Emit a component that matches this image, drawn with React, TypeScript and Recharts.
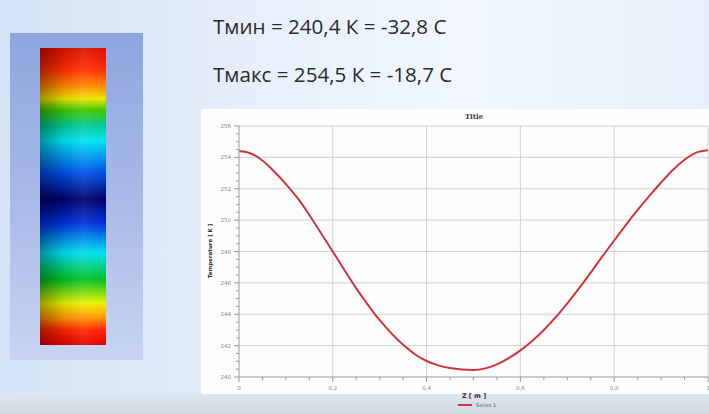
import React from 'react';
import { LineChart, Line, XAxis, YAxis, ReferenceLine } from 'recharts';

const zValues = [0, 0.025, 0.05, 0.075, 0.1, 0.125, 0.15, 0.175, 0.2, 0.225, 0.25, 0.275, 0.3, 0.325, 0.35, 0.375, 0.4, 0.425, 0.45, 0.475, 0.5, 0.525, 0.55, 0.575, 0.6, 0.625, 0.65, 0.675, 0.7, 0.725, 0.75, 0.775, 0.8, 0.825, 0.85, 0.875, 0.9, 0.925, 0.95, 0.975, 1];
const tempValues = [254.4, 254.25, 253.8, 253.1, 252.3, 251.4, 250.33, 249.16, 248.0, 246.8, 245.65, 244.6, 243.62, 242.78, 242.05, 241.45, 241.02, 240.74, 240.57, 240.48, 240.45, 240.55, 240.8, 241.2, 241.7, 242.3, 243.0, 243.8, 244.7, 245.65, 246.65, 247.7, 248.7, 249.7, 250.65, 251.55, 252.4, 253.2, 253.85, 254.3, 254.45];

const xMajorTicks = [0, 0.2, 0.4, 0.6, 0.8, 1];
const xAllTicks = [0, 0.05, 0.1, 0.15, 0.2, 0.25, 0.3, 0.35, 0.4, 0.45, 0.5, 0.55, 0.6, 0.65, 0.7, 0.75, 0.8, 0.85, 0.9, 0.95, 1];
const yMajorTicks = [240, 242, 244, 246, 248, 250, 252, 254, 256];
const yAllTicks = [240, 240.5, 241, 241.5, 242, 242.5, 243, 243.5, 244, 244.5, 245, 245.5, 246, 246.5, 247, 247.5, 248, 248.5, 249, 249.5, 250, 250.5, 251, 251.5, 252, 252.5, 253, 253.5, 254, 254.5, 255, 255.5, 256];

const seriesName = 'Series 1';
const chartTitle = 'Title';
const xLabel = 'Z [ m ]';
const yLabel = 'Temperature [ K ]';
const line1 = 'Тмин = 240,4 К = -32,8 С';
const line2 = 'Тмакс = 254,5 К = -18,7 С';

const data = zValues.map((z, i) => ({ z, t: tempValues[i] }));

const fmt = (v: number) => String(v).replace('.', ',');

const XTick = (props: any) => {
  const { x, y, payload } = props;
  const v = payload.value;
  const major = xMajorTicks.includes(v);
  return (
    <g>
      <line x1={x} x2={x} y1={y} y2={y + (major ? 5 : 3)} stroke="#9a9a9a" strokeWidth={1} />
      {major && (
        <text x={x} y={y + 13} textAnchor="middle" fontSize={5.5} fill="#8a8a8a" fontFamily="DejaVu Sans">
          {fmt(v)}
        </text>
      )}
    </g>
  );
};

const YTick = (props: any) => {
  const { x, y, payload } = props;
  const v = payload.value;
  const major = yMajorTicks.includes(v);
  return (
    <g>
      <line x1={x} x2={x - (major ? 5 : 3)} y1={y} y2={y} stroke="#9a9a9a" strokeWidth={1} />
      {major && (
        <text x={x - 8} y={y + 2} textAnchor="end" fontSize={5.5} fill="#8a8a8a" fontFamily="DejaVu Sans">
          {fmt(v)}
        </text>
      )}
    </g>
  );
};

const barGradient =
  'linear-gradient(to bottom, #d81000 0%, #ff2a00 7%, #ff8a00 13%, #eee400 17%, #3cc800 21%, #00c890 26%, #00e4f0 31%, #0050e8 42%, #00006a 51%, #0030e0 59%, #00e0f0 69%, #00c020 78%, #eef000 86%, #ff9000 91%, #ff2400 95%, #e00000 100%)';

export default function App() {
  return (
    <div
      style={{
        position: 'absolute',
        left: 0,
        top: 0,
        width: 709,
        height: 414,
        overflow: 'hidden',
        fontFamily: '"Open Sans", sans-serif',
        background: 'linear-gradient(to right, #d3e3f5 0%, #e4eefa 30%, #f1f7fd 65%, #e6f0fa 100%)',
      }}
    >
      <div
        style={{
          position: 'absolute',
          left: 0,
          top: 393,
          width: 709,
          height: 21,
          background: 'linear-gradient(to bottom, #dfe7f0 0%, #cfd7e1 100%)',
        }}
      />
      <div
        style={{
          position: 'absolute',
          left: 10,
          top: 33,
          width: 133,
          height: 327,
          background: 'linear-gradient(to bottom, #8ea6df 0%, #a7b9e8 50%, #c8d4f1 100%)',
        }}
      />
      <div
        style={{
          position: 'absolute',
          left: 40,
          top: 48,
          width: 66,
          height: 297,
          background: barGradient,
        }}
      >
        <div
          style={{
            position: 'absolute',
            inset: 0,
            background:
              'linear-gradient(to right, rgba(0,0,0,0.35) 0%, rgba(0,0,0,0.08) 35%, rgba(255,255,255,0.08) 65%, rgba(0,0,0,0) 100%)',
          }}
        />
      </div>
      <div
        style={{
          position: 'absolute',
          left: 213,
          top: 12,
          fontSize: 20.6,
          color: '#2b2b2b',
          whiteSpace: 'nowrap',
          lineHeight: '28px',
        }}
      >
        {line1}
      </div>
      <div
        style={{
          position: 'absolute',
          left: 213,
          top: 60,
          fontSize: 20.6,
          color: '#2b2b2b',
          whiteSpace: 'nowrap',
          lineHeight: '28px',
        }}
      >
        {line2}
      </div>
      <div
        style={{
          position: 'absolute',
          left: 201,
          top: 109,
          width: 508,
          height: 285,
          background: '#fdfdfd',
        }}
      />
      <div
        style={{
          position: 'absolute',
          left: 200,
          top: 100,
          width: 509,
          height: 300,
        }}
      >
        <LineChart width={509} height={300} data={data} margin={{ top: 26, right: 1, left: 17, bottom: 9 }}>
          <XAxis
            dataKey="z"
            type="number"
            domain={[0, 1]}
            allowDataOverflow
            ticks={xAllTicks}
            interval={0}
            tickSize={0}
            tickMargin={0}
            tickLine={false}
            tick={<XTick />}
            height={14}
            stroke="#9a9a9a"
          />
          <YAxis
            dataKey="t"
            type="number"
            domain={[240, 256]}
            allowDataOverflow
            ticks={yAllTicks}
            interval={0}
            tickSize={0}
            tickMargin={0}
            tickLine={false}
            tick={<YTick />}
            width={22}
            stroke="#9a9a9a"
          />
          {xMajorTicks.slice(1).map((v) => (
            <ReferenceLine key={'x' + v} x={v} stroke="#d2d2d2" strokeWidth={1} />
          ))}
          {yMajorTicks.slice(1).map((v) => (
            <ReferenceLine key={'y' + v} y={v} stroke="#d2d2d2" strokeWidth={1} />
          ))}
          <Line
            type="monotone"
            dataKey="t"
            name={seriesName}
            stroke="#d0353a"
            strokeWidth={2}
            dot={false}
            isAnimationActive={false}
          />
        </LineChart>
      </div>
      <div
        style={{
          position: 'absolute',
          left: 424,
          width: 100,
          top: 112,
          textAlign: 'center',
          fontSize: 7,
          fontWeight: 'bold',
          color: '#333',
          fontFamily: '"DejaVu Serif", serif',
        }}
      >
        {chartTitle}
      </div>
      <div
        style={{
          position: 'absolute',
          left: 180,
          top: 246,
          width: 60,
          textAlign: 'center',
          fontSize: 5.5,
          fontWeight: 'bold',
          color: '#333',
          fontFamily: '"DejaVu Sans", sans-serif',
          transform: 'rotate(-90deg)',
          transformOrigin: '30px 5px',
          lineHeight: '10px',
        }}
      >
        {yLabel}
      </div>
      <div
        style={{
          position: 'absolute',
          left: 434,
          width: 80,
          top: 392,
          textAlign: 'center',
          fontSize: 6.5,
          fontWeight: 'bold',
          color: '#333',
          fontFamily: '"DejaVu Sans", sans-serif',
        }}
      >
        {xLabel}
      </div>
      <div
        style={{
          position: 'absolute',
          left: 458,
          top: 402,
          display: 'flex',
          alignItems: 'center',
          fontSize: 5,
          color: '#555',
          fontFamily: '"DejaVu Sans", sans-serif',
        }}
      >
        <div style={{ width: 14, height: 1.5, background: '#d0353a', marginRight: 4 }} />
        <span>{seriesName}</span>
      </div>
    </div>
  );
}
